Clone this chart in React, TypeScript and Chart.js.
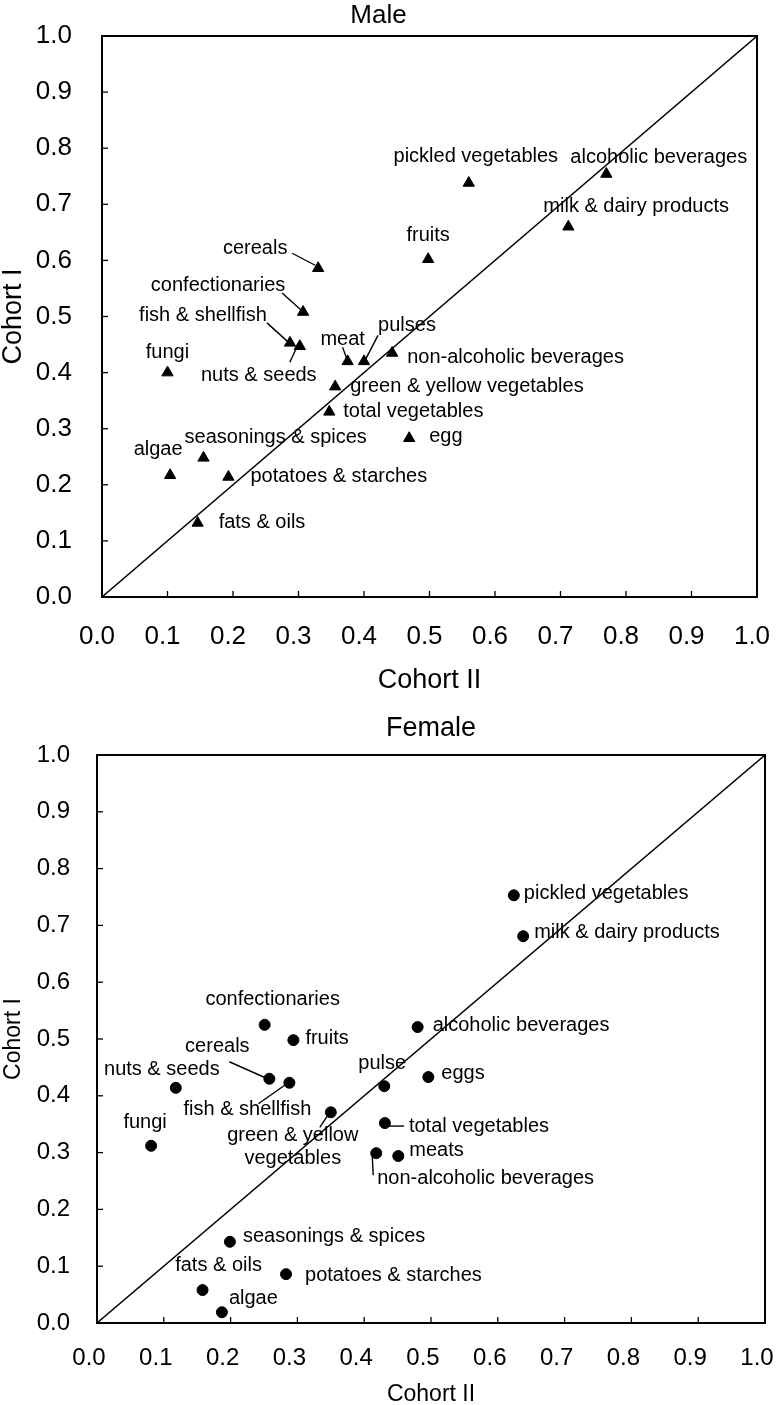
import React, { useEffect, useRef } from 'react';
import { Chart, registerables } from 'chart.js';

Chart.register(...registerables);

const FONT = '"Liberation Sans", Arial, Helvetica, sans-serif';

// ---------- data ----------
const tickLabels = ['0.0', '0.1', '0.2', '0.3', '0.4', '0.5', '0.6', '0.7', '0.8', '0.9', '1.0'];
const diagonal = [0, 1];

const maleFoods = [
  'cereals', 'confectionaries', 'fish & shellfish', 'nuts & seeds', 'fungi', 'meat', 'pulses',
  'non-alcoholic beverages', 'green & yellow vegetables', 'total vegetables', 'egg', 'algae',
  'seasonings & spices', 'potatoes & starches', 'fats & oils', 'pickled vegetables',
  'alcoholic beverages', 'milk & dairy products', 'fruits',
];
const maleCohortII = [0.33, 0.307, 0.287, 0.302, 0.10, 0.375, 0.40, 0.443, 0.356, 0.347, 0.469, 0.104, 0.155, 0.193, 0.146, 0.56, 0.77, 0.712, 0.498];
const maleCohortI = [0.586, 0.508, 0.453, 0.447, 0.40, 0.42, 0.42, 0.435, 0.375, 0.33, 0.283, 0.217, 0.248, 0.214, 0.132, 0.738, 0.754, 0.66, 0.602];

const femaleFoods = [
  'confectionaries', 'fruits', 'cereals', 'fish & shellfish', 'nuts & seeds', 'fungi',
  'green & yellow vegetables', 'pulse', 'total vegetables', 'non-alcoholic beverages', 'meats',
  'eggs', 'alcoholic beverages', 'pickled vegetables', 'milk & dairy products',
  'seasonings & spices', 'potatoes & starches', 'fats & oils', 'algae',
];
const femaleCohortII = [0.251, 0.294, 0.258, 0.288, 0.118, 0.081, 0.35, 0.43, 0.431, 0.418, 0.451, 0.496, 0.48, 0.624, 0.638, 0.199, 0.283, 0.158, 0.187];
const femaleCohortI = [0.525, 0.498, 0.43, 0.423, 0.414, 0.312, 0.371, 0.417, 0.352, 0.299, 0.294, 0.433, 0.521, 0.753, 0.681, 0.143, 0.086, 0.058, 0.019];

// ---------- label placement (styling, px offsets from each point) ----------
type Lab = { dx: number; dy: number; align: 'left' | 'center' | 'right'; lead?: number[]; wrap?: boolean };

const maleLabelLayout: Lab[] = [
  { dx: -63, dy: -20, align: 'center', lead: [-26, -15, -3, -3] },
  { dx: -85, dy: -27, align: 'center', lead: [-21, -19, -2, -2] },
  { dx: -87, dy: -27, align: 'center', lead: [-23, -20, -2, -1] },
  { dx: -41, dy: 29, align: 'center', lead: [-10, 16, -3, 1] },
  { dx: 0, dy: -20, align: 'center' },
  { dx: -5, dy: -22, align: 'center', lead: [-5, -14, -1, -3] },
  { dx: 43, dy: -36, align: 'center', lead: [14, -26, 1, -1] },
  { dx: 15, dy: 5, align: 'left' },
  { dx: 15, dy: 0, align: 'left' },
  { dx: 14, dy: 0, align: 'left' },
  { dx: 20, dy: -2, align: 'left' },
  { dx: -12, dy: -26, align: 'center' },
  { dx: -19, dy: -20, align: 'left' },
  { dx: 22, dy: 0, align: 'left' },
  { dx: 21, dy: 0, align: 'left' },
  { dx: 7, dy: -26, align: 'center' },
  { dx: -36, dy: -17, align: 'left' },
  { dx: -25, dy: -20, align: 'left' },
  { dx: 0, dy: -24, align: 'center' },
];

const femaleLabelLayout: Lab[] = [
  { dx: 8, dy: -25, align: 'center' },
  { dx: 12, dy: -2, align: 'left' },
  { dx: -52, dy: -32, align: 'center', lead: [-40, -17, -4, -1] },
  { dx: -42, dy: 27, align: 'center', lead: [-31, 21, -4, 2] },
  { dx: -14, dy: -18, align: 'center' },
  { dx: -6, dy: -23, align: 'center' },
  { dx: -38, dy: 23, align: 'center', lead: [-11, 15, -3, 3], wrap: true },
  { dx: -2, dy: -23, align: 'center' },
  { dx: 24, dy: 3, align: 'left', lead: [2, 3, 19, 3] },
  { dx: 1, dy: 25, align: 'left', lead: [-4, 2, -3, 22] },
  { dx: 11, dy: -6, align: 'left' },
  { dx: 13, dy: -4, align: 'left' },
  { dx: 15, dy: -2, align: 'left' },
  { dx: 10, dy: -2, align: 'left' },
  { dx: 11, dy: -4, align: 'left' },
  { dx: 13, dy: -5, align: 'left' },
  { dx: 19, dy: 1, align: 'left' },
  { dx: 16, dy: -25, align: 'center' },
  { dx: 7, dy: -14, align: 'left' },
];

// ---------- plugins ----------
const framePlugin = {
  id: 'frame',
  afterDraw(chart: any) {
    const { ctx, chartArea, scales } = chart;
    const { left, right, top, bottom } = chartArea;
    ctx.save();
    ctx.strokeStyle = '#000';
    ctx.lineWidth = 2;
    ctx.strokeRect(left, top, right - left, bottom - top);
    ctx.lineWidth = 1.3;
    const tl = 6;
    scales.x.ticks.forEach((_t: any, i: number) => {
      const px = scales.x.getPixelForTick(i);
      ctx.beginPath();
      ctx.moveTo(px, bottom);
      ctx.lineTo(px, bottom - tl);
      ctx.stroke();
    });
    scales.y.ticks.forEach((_t: any, i: number) => {
      const py = scales.y.getPixelForTick(i);
      ctx.beginPath();
      ctx.moveTo(left, py);
      ctx.lineTo(left + tl, py);
      ctx.stroke();
    });
    ctx.restore();
  },
};

const labelPlugin = {
  id: 'pointLabels',
  afterDatasetsDraw(chart: any, _args: any, opts: any) {
    const { ctx } = chart;
    const meta = chart.getDatasetMeta(1);
    const texts: string[] = opts.texts;
    const layout: Lab[] = opts.layout;
    ctx.save();
    ctx.fillStyle = '#000';
    ctx.strokeStyle = '#000';
    ctx.lineWidth = 1.4;
    ctx.font = `${opts.size}px ${FONT}`;
    ctx.textBaseline = 'middle';
    meta.data.forEach((pt: any, i: number) => {
      const L = layout[i];
      const text = texts[i];
      if (!L) return;
      ctx.textAlign = L.align;
      if (L.wrap) {
        const cut = text.lastIndexOf(' ');
        const lines = [text.slice(0, cut), text.slice(cut + 1)];
        lines.forEach((ln, k) => ctx.fillText(ln, pt.x + L.dx, pt.y + L.dy + k * 23));
      } else {
        ctx.fillText(text, pt.x + L.dx, pt.y + L.dy);
      }
      if (L.lead) {
        ctx.beginPath();
        ctx.moveTo(pt.x + L.lead[0], pt.y + L.lead[1]);
        ctx.lineTo(pt.x + L.lead[2], pt.y + L.lead[3]);
        ctx.stroke();
      }
    });
    ctx.restore();
  },
};

type Spec = {
  title: string;
  titleFullSize: boolean;
  foods: string[];
  xs: number[];
  ys: number[];
  pointStyle: string;
  radius: number;
  layout: Lab[];
  height: number;
  padRight: number;
  titleSize: number;
  titlePadTop: number;
  titlePadBottom: number;
  yWidth: number;
  xHeight: number;
  tickSize: number;
  xTickPad: number;
  xLabelShift: number;
  yTickPad: number;
  axisTitleSize: number;
  xTitlePadBottom: number;
  yTitlePadTop: number;
  labelSize: number;
};

function makeConfig(s: Spec): any {
  return {
    type: 'scatter',
    data: {
      datasets: [
        {
          label: 'line of identity',
          data: diagonal.map((v) => ({ x: v, y: v })),
          showLine: true,
          borderColor: '#000',
          borderWidth: 1.4,
          pointRadius: 0,
        },
        {
          label: s.title,
          data: s.xs.map((x, i) => ({ x, y: s.ys[i] })),
          pointStyle: s.pointStyle,
          pointRadius: s.radius,
          backgroundColor: '#000',
          borderColor: '#000',
          borderWidth: 1,
        },
      ],
    },
    options: {
      responsive: false,
      animation: false,
      layout: { padding: { left: 0, right: s.padRight, top: 0, bottom: 0 } },
      plugins: {
        legend: { display: false },
        tooltip: { enabled: false },
        title: {
          display: true,
          text: s.title,
          color: '#000',
          fullSize: s.titleFullSize,
          font: { family: FONT, size: s.titleSize, weight: 'normal', lineHeight: 1.2 },
          padding: { top: s.titlePadTop, bottom: s.titlePadBottom },
        },
        pointLabels: { texts: s.foods, layout: s.layout, size: s.labelSize },
      },
      scales: {
        x: {
          type: 'linear',
          min: 0,
          max: 1,
          grid: { display: false, drawTicks: false },
          border: { display: false },
          ticks: {
            stepSize: 0.1,
            autoSkip: false,
            maxRotation: 0,
            color: '#000',
            padding: s.xTickPad,
            labelOffset: s.xLabelShift,
            font: { family: FONT, size: s.tickSize },
            callback: (_v: any, i: number) => tickLabels[i],
          },
          title: {
            display: true,
            text: 'Cohort II',
            color: '#000',
            font: { family: FONT, size: s.axisTitleSize, lineHeight: 1 },
            padding: { top: 0, bottom: s.xTitlePadBottom },
          },
          afterFit: (sc: any) => {
            sc.height = s.xHeight;
            sc.paddingLeft = 0;
            sc.paddingRight = 0;
          },
        },
        y: {
          type: 'linear',
          min: 0,
          max: 1,
          grid: { display: false, drawTicks: false },
          border: { display: false },
          ticks: {
            stepSize: 0.1,
            autoSkip: false,
            color: '#000',
            padding: s.yTickPad,
            font: { family: FONT, size: s.tickSize },
            callback: (_v: any, i: number) => tickLabels[i],
          },
          title: {
            display: true,
            text: 'Cohort I',
            color: '#000',
            font: { family: FONT, size: s.axisTitleSize, lineHeight: 1 },
            padding: { top: s.yTitlePadTop, bottom: 0 },
          },
          afterFit: (sc: any) => {
            sc.width = s.yWidth;
            sc.paddingTop = 0;
            sc.paddingBottom = 0;
          },
        },
      },
    },
    plugins: [framePlugin, labelPlugin],
  };
}

const maleSpec: Spec = {
  title: 'Male',
  titleFullSize: true,
  foods: maleFoods,
  xs: maleCohortII,
  ys: maleCohortI,
  pointStyle: 'triangle',
  radius: 6.5,
  layout: maleLabelLayout,
  height: 700,
  padRight: 21,
  titleSize: 26,
  titlePadTop: 0.5,
  titlePadBottom: 4.3,
  yWidth: 102,
  xHeight: 103,
  tickSize: 26,
  xTickPad: 24,
  xLabelShift: -5,
  yTickPad: 30,
  axisTitleSize: 27,
  xTitlePadBottom: 6,
  yTitlePadTop: 0.5,
  labelSize: 20,
};

const femaleSpec: Spec = {
  title: 'Female',
  titleFullSize: false,
  foods: femaleFoods,
  xs: femaleCohortII,
  ys: femaleCohortI,
  pointStyle: 'circle',
  radius: 5.5,
  layout: femaleLabelLayout,
  height: 705,
  padRight: 13,
  titleSize: 27,
  titlePadTop: 12,
  titlePadBottom: 10.6,
  yWidth: 97,
  xHeight: 82,
  tickSize: 24,
  xTickPad: 21,
  xLabelShift: -8,
  yTickPad: 27,
  axisTitleSize: 23,
  xTitlePadBottom: -1,
  yTitlePadTop: 2,
  labelSize: 20,
};

function Panel({ spec }: { spec: Spec }) {
  const ref = useRef<HTMLCanvasElement>(null);
  useEffect(() => {
    const chart = new Chart(ref.current as HTMLCanvasElement, makeConfig(spec));
    return () => chart.destroy();
  }, [spec]);
  return (
    <canvas
      ref={ref}
      width={778}
      height={spec.height}
      style={{ display: 'block', width: 778, height: spec.height }}
    />
  );
}

export default function App() {
  return (
    <div style={{ position: 'absolute', left: 0, top: 0, width: 778, height: 1405, background: '#fff' }}>
      <Panel spec={maleSpec} />
      <Panel spec={femaleSpec} />
    </div>
  );
}
